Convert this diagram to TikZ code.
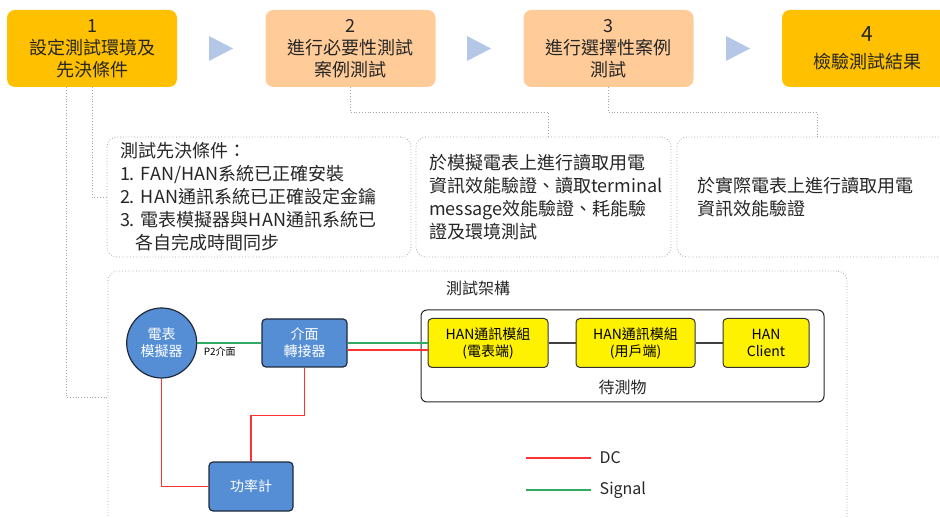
\documentclass[tikz,border=0pt]{standalone}
\usepackage{fontspec}
\setmainfont{Noto Sans CJK TC}
\frenchspacing

\definecolor{gold}{RGB}{255,192,0}
\definecolor{peach}{RGB}{255,204,153}
\definecolor{arrowblue}{RGB}{180,199,231}
\definecolor{dotgray}{RGB}{165,165,165}
\definecolor{textgray}{RGB}{38,38,38}
\definecolor{nodeblue}{RGB}{85,142,213}
\definecolor{edgeblue}{RGB}{32,42,58}
\definecolor{dcred}{RGB}{255,50,50}
\definecolor{siggreen}{RGB}{50,170,100}

\begin{document}
\begin{tikzpicture}[x=1pt,y=-1pt,
					thick,
					%node distance=20pt,
					stage box/.style={rectangle,rounded corners=8pt,minimum width=170pt,minimum height=77pt,
						align=center,text=textgray,font=\fontsize{18}{22}\selectfont},
					note box/.style={rectangle,rounded corners=10pt,draw=dotgray,dotted,line width=0.8pt,
						minimum height=120pt,align=left,text=textgray,font=\fontsize{18}{23}\selectfont,inner xsep=13pt},
					blue node/.style={draw=edgeblue,fill=nodeblue,text=white,align=center,line width=1.2pt,
						font=\fontsize{14}{17}\selectfont},
					dut node/.style={rectangle,draw=black!80,fill=yellow,rounded corners=4pt,align=center,
						minimum height=49pt,line width=1pt,font=\fontsize{14}{17}\selectfont},
					link/.style={dotted,draw=dotgray,line width=0.8pt},
					dc/.style={draw=dcred,line width=1.3pt},
					signal/.style={draw=siggreen,line width=1.3pt}]

  \useasboundingbox (0,0) rectangle (940,518);
  \clip (0,0) rectangle (940,518);

  % steps
  \node[stage box,fill=gold] (stage1) at (92,48.5) {1\\設定測試環境及\\先決條件};
  \node[stage box,fill=peach] (stage2) at (350.5,48.5) {2\\進行必要性測試\\案例測試};
  \node[stage box,fill=peach] (stage3) at (608.5,48.5) {3\\進行選擇性案例\\測試};
  \node[stage box,fill=gold] (stage4) at (867,48.5) {{\fontsize{21}{24}\selectfont 4}\\[5pt]檢驗測試結果};

  \foreach \x in {209,467,726}
    \fill[arrowblue] (\x,36) -- (\x+24,48.5) -- (\x,61) -- cycle;

  % notes
  \node[note box,minimum width=304pt,text width=278pt] (cond) at (259,197)
    {測試先決條件：\\1. FAN/HAN系統已正確安裝\\2. HAN通訊系統已正確設定金鑰\\3. 電表模擬器與HAN通訊系統已\\\hspace*{15pt}各自完成時間同步};
  \node[note box,minimum width=255pt,text width=229pt] (sim) at (543.5,197)
    {於模擬電表上進行讀取用電\\資訊效能驗證、讀取terminal\\message效能驗證、耗能驗\\證及環境測試};
  \node[note box,minimum width=280pt,text width=240pt,inner xsep=20pt] (real) at (817,197)
    {於實際電表上進行讀取用電\\資訊效能驗證};

  % test setup
  \node[note box,minimum width=739pt,minimum height=269pt] (arch) at (477.5,405.5) {};
  \node[text=textgray,font=\fontsize{16}{19}\selectfont] (archtitle) at (478,288) {測試架構};

  \draw[link] ([xshift=-26pt]stage1.south) |- (arch.west |- 0,397);
  \draw[link] (stage1.south) |- (cond.west);
  \draw[link] (stage2.south) -- ++(0,25) -| ([xshift=5pt]sim.north);
  \draw[link] (stage3.south) -- ++(0,25) -| (real.north);

  \node[blue node,circle,minimum size=70pt,inner sep=0pt] (meter) at (161.7,343) {電表\\模擬器};
  \node[blue node,rectangle,rounded corners=4pt,minimum width=85pt,minimum height=48pt] (adapter) at (304.5,343) {介面\\轉接器};
  \node[blue node,rectangle,rounded corners=4pt,minimum width=84pt,minimum height=49pt] (power) at (251,486.5) {功率計};

  \node[rectangle,draw=black!85,rounded corners=6pt,line width=1pt,minimum width=403pt,minimum height=92pt] (dut) at (622.5,356) {};
  \node[text=textgray,font=\fontsize{16}{19}\selectfont] (dutlabel) at (622.7,387) {待測物};
  \node[dut node,minimum width=120pt] (han1) at (488,343) {HAN通訊模組\\(電表端)};
  \node[dut node,minimum width=119pt] (han2) at (635.5,343) {HAN通訊模組\\(用戶端)};
  \node[dut node,minimum width=86pt] (han3) at (766,343) {HAN\\Client};

  \path[every node/.style={font=\fontsize{10}{12}\selectfont,text=black}]
    (meter) edge[signal] node[below,pos=0.35] {P2介面} (adapter)
    (adapter) edge[signal] (han1)
    ([yshift=-7pt]adapter.east) edge[dc] ([yshift=-7pt]han1.west)
    (han1) edge[draw=black!75,line width=1.3pt] (han2)
    (han2) edge[draw=black!75,line width=1.3pt] (han3);

  \draw[dc] (meter.south) |- (power.west);
  \draw[dc] (adapter.south) -- ++(0,48) -| (power.north);

  % legend
  \node[anchor=west,text=textgray,font=\fontsize{16}{19}\selectfont] (dclabel) at (596,458) {DC};
  \node[anchor=west,text=textgray,font=\fontsize{16}{19}\selectfont] (siglabel) at (596,490) {Signal};
  \coordinate (dcstart) at (526,458);
  \coordinate (sigstart) at (526,490);
  \draw[dc] (dcstart) -- ([xshift=-5pt]dclabel.west);
  \draw[signal] (sigstart) -- ([xshift=-5pt]siglabel.west);
\end{tikzpicture}
\end{document}
